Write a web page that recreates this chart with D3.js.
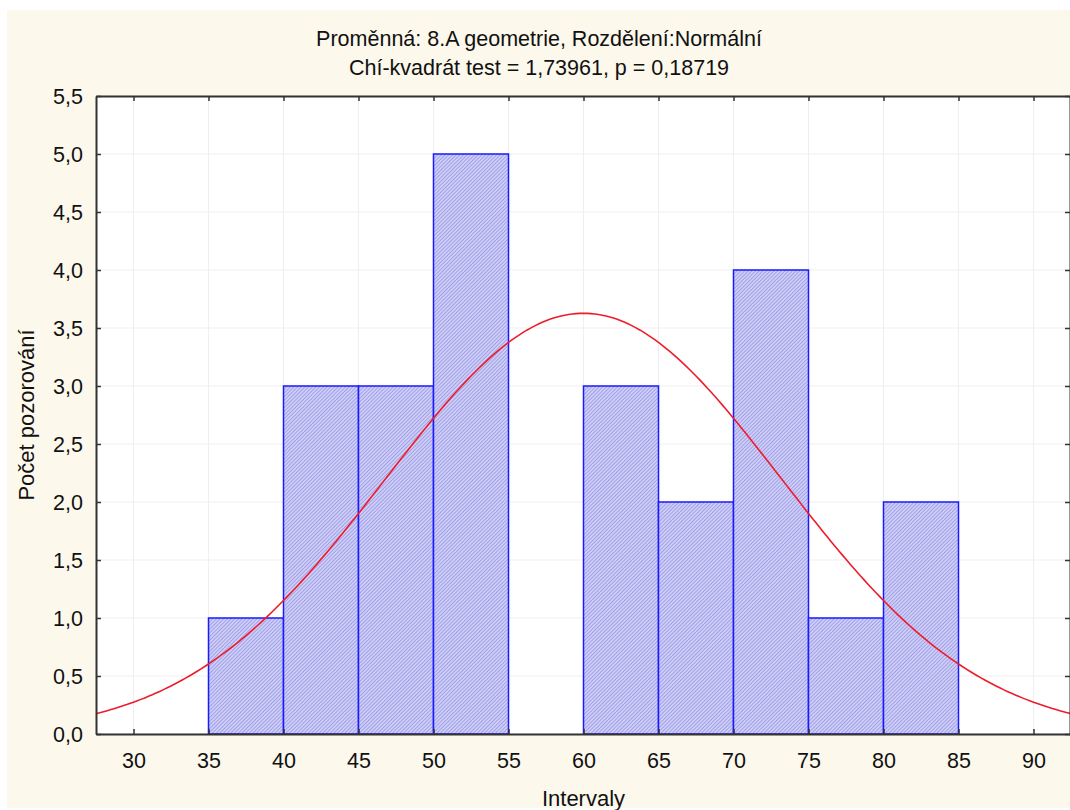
<!DOCTYPE html>
<html>
<head>
<meta charset="utf-8">
<script src="https://cdn.jsdelivr.net/npm/d3@7"></script>
<style>
  body { margin: 0; background: #fff; }
  text { font-family: "Liberation Sans", Arial, sans-serif; fill: #111; }
</style>
</head>
<body>
<div id="container"></div>
<script>
/* DATA */
const binStarts = [35, 40, 45, 50, 55, 60, 65, 70, 75, 80];
const counts = [1, 3, 3, 5, 0, 3, 2, 4, 1, 2];
const binWidth = 5;
const xTicks = [30, 35, 40, 45, 50, 55, 60, 65, 70, 75, 80, 85, 90];
const yTicks = [0, 0.5, 1, 1.5, 2, 2.5, 3, 3.5, 4, 4.5, 5, 5.5];
// fitted normal curve parameters
const fitMean = 60.0;
const fitSd = 13.2;
const titleLines = ["Proměnná: 8.A geometrie, Rozdělení:Normální", "Chí-kvadrát test = 1,73961, p = 0,18719"];

/* CONSTANTS */
const width = 1070, height = 810;
const margin = { top: 96, bottom: 76, left: 96, right: -1 };

const locale = d3.formatLocale({ decimal: ",", thousands: " ", grouping: [3], currency: ["", ""] });
const fmt1 = locale.format(".1f");

const svg = d3.select("#container").append("svg")
  .attr("width", width).attr("height", height);

// hatch pattern for bars
const defs = svg.append("defs");
const pat = defs.append("pattern")
  .attr("id", "hatch").attr("patternUnits", "userSpaceOnUse")
  .attr("width", 2.6).attr("height", 2.6)
  .attr("patternTransform", "rotate(45)");
pat.append("rect").attr("width", 2.6).attr("height", 2.6).attr("fill", "#cdcdf6");
pat.append("line").attr("x1", 0).attr("y1", 0).attr("x2", 0).attr("y2", 2.6)
  .attr("stroke", "#8282e0").attr("stroke-width", 1.1);

// outer background
svg.append("rect").attr("x", 7).attr("y", 10).attr("width", width - 7).attr("height", 798)
  .attr("fill", "#fcf8ec");

/* SCALES */
const xScale = d3.scaleLinear().domain([27.5, 92.5]).range([margin.left, width - margin.right]);
const yScale = d3.scaleLinear().domain([0, 5.5]).range([height - margin.bottom, margin.top]);

// plot area
svg.append("rect")
  .attr("x", margin.left).attr("y", margin.top)
  .attr("width", xScale.range()[1] - margin.left)
  .attr("height", yScale(0) - margin.top)
  .attr("fill", "#fff");

// grid
svg.append("g").selectAll("line").data(xTicks).join("line")
  .attr("x1", d => xScale(d)).attr("x2", d => xScale(d))
  .attr("y1", margin.top).attr("y2", yScale(0))
  .attr("stroke", "#efefef").attr("stroke-width", 1.2);
svg.append("g").selectAll("line").data(yTicks).join("line")
  .attr("x1", margin.left).attr("x2", xScale.range()[1])
  .attr("y1", d => yScale(d)).attr("y2", d => yScale(d))
  .attr("stroke", "#efefef").attr("stroke-width", 1.2);

// bars
svg.append("g").selectAll("rect").data(binStarts.map((s, i) => ({ s, c: counts[i] })).filter(d => d.c > 0))
  .join("rect")
  .attr("x", d => xScale(d.s))
  .attr("y", d => yScale(d.c))
  .attr("width", d => xScale(d.s + binWidth) - xScale(d.s))
  .attr("height", d => yScale(0) - yScale(d.c))
  .attr("fill", "url(#hatch)")
  .attr("stroke", "#1a1aff").attr("stroke-width", 1.5);

// normal curve
const total = d3.sum(counts);
const normal = x => total * binWidth / (fitSd * Math.sqrt(2 * Math.PI)) * Math.exp(-0.5 * ((x - fitMean) / fitSd) ** 2);
const curveX = d3.range(27.5, 92.51, 0.25);
svg.append("path")
  .datum(curveX)
  .attr("fill", "none").attr("stroke", "#ee1c2a").attr("stroke-width", 1.6)
  .attr("d", d3.line().x(d => xScale(d)).y(d => yScale(normal(d))));

/* AXES */
const tickLen = 5;
const xAxis = svg.append("g")
  .attr("transform", `translate(0,${yScale(0)})`)
  .call(d3.axisBottom(xScale).tickValues(xTicks).tickSizeInner(-tickLen).tickSizeOuter(0));
const xTop = svg.append("g")
  .attr("transform", `translate(0,${margin.top})`)
  .call(d3.axisTop(xScale).tickValues(xTicks).tickSizeInner(-tickLen).tickSizeOuter(0).tickFormat(""));
const yAxis = svg.append("g")
  .attr("transform", `translate(${margin.left},0)`)
  .call(d3.axisLeft(yScale).tickValues(yTicks).tickSizeInner(-tickLen).tickSizeOuter(0).tickPadding(13).tickFormat(fmt1));
const yRight = svg.append("g")
  .attr("transform", `translate(${xScale.range()[1] - 1},0)`)
  .call(d3.axisRight(yScale).tickValues(yTicks).tickSizeInner(-tickLen).tickSizeOuter(0).tickFormat(""));

[xAxis, xTop, yAxis, yRight].forEach(g => {
  g.select(".domain").attr("stroke", "#333").attr("stroke-width", 2);
  g.selectAll(".tick line").attr("stroke", "#333").attr("stroke-width", 1.5);
  g.selectAll("text").style("font-size", "21.5px").attr("fill", "#111");
});
xAxis.selectAll("text").attr("dy", 0).attr("y", 34);
yAxis.selectAll("text").attr("dy", "0.36em");

// titles
svg.append("g").selectAll("text").data(titleLines).join("text")
  .attr("x", 539).attr("y", (d, i) => 46 + i * 29)
  .attr("text-anchor", "middle").style("font-size", "21.5px")
  .text(d => d);

svg.append("text")
  .attr("x", xScale(60)).attr("y", 806)
  .attr("text-anchor", "middle").style("font-size", "22px")
  .text("Intervaly");

svg.append("text")
  .attr("transform", `translate(34,${yScale(2.75)}) rotate(-90)`)
  .attr("text-anchor", "middle").style("font-size", "22px")
  .text("Počet pozorování");
</script>
</body>
</html>
